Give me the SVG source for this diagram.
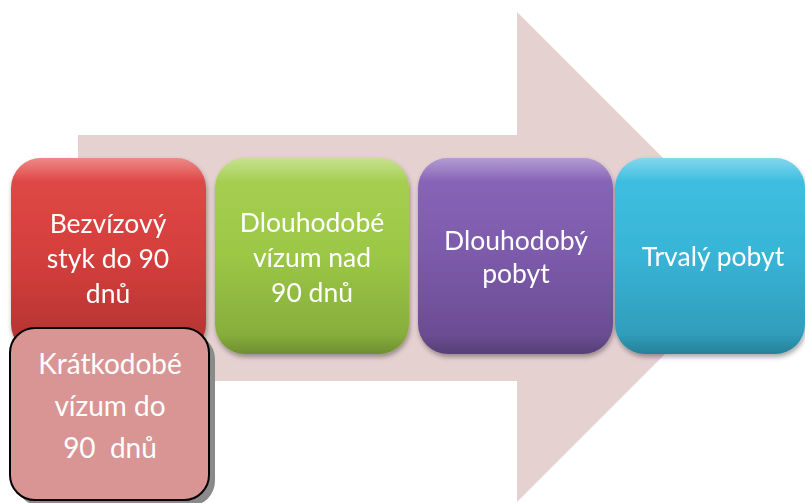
<svg xmlns="http://www.w3.org/2000/svg" width="805" height="503" viewBox="0 0 805 503">
<style>
.t{font-family:Lato,"Open Sans","Liberation Sans",sans-serif;fill:#fff;text-anchor:middle;font-size:26.5px}
.tk{font-size:28px}
</style>
<defs>
<linearGradient id="gr" x1="0" y1="0" x2="0" y2="1"><stop offset="0" stop-color="#E24A48"/><stop offset="0.5" stop-color="#D43F3C"/><stop offset="1" stop-color="#B33231"/></linearGradient>
<linearGradient id="gg" x1="0" y1="0" x2="0" y2="1"><stop offset="0" stop-color="#A9D155"/><stop offset="0.5" stop-color="#9BC745"/><stop offset="1" stop-color="#82A83A"/></linearGradient>
<linearGradient id="gp" x1="0" y1="0" x2="0" y2="1"><stop offset="0" stop-color="#8A67BA"/><stop offset="0.5" stop-color="#7C5AAB"/><stop offset="1" stop-color="#664A8C"/></linearGradient>
<linearGradient id="gc" x1="0" y1="0" x2="0" y2="1"><stop offset="0" stop-color="#40C1E3"/><stop offset="0.5" stop-color="#38B4D6"/><stop offset="1" stop-color="#2E97B4"/></linearGradient>
<linearGradient id="gl" x1="0" y1="0" x2="0" y2="1"><stop offset="0" stop-color="#fff" stop-opacity="0.35"/><stop offset="0.12" stop-color="#fff" stop-opacity="0"/><stop offset="0.9" stop-color="#000" stop-opacity="0"/><stop offset="1" stop-color="#000" stop-opacity="0.15"/></linearGradient>
<filter id="sh" x="-10%" y="-10%" width="130%" height="130%"><feDropShadow dx="1" dy="3" stdDeviation="2.5" flood-color="#000" flood-opacity="0.35"/></filter>
</defs>
<path id="arrow" d="M78,135 H517 V12 L762,257 L517,502 V381 H78 Z" fill="#E6D1D1"/>
<g id="n1" filter="url(#sh)"><rect x="11" y="158" width="195" height="196" rx="30" fill="url(#gr)"/><rect x="11" y="158" width="195" height="196" rx="30" fill="url(#gl)"/>
<text class="t" x="108" y="233">Bezvízový</text><text class="t" x="108" y="268">styk do 90</text><text class="t" x="108" y="303">dnů</text></g>
<g id="n2" filter="url(#sh)"><rect x="215" y="158" width="194" height="196" rx="30" fill="url(#gg)"/><rect x="215" y="158" width="194" height="196" rx="30" fill="url(#gl)"/>
<text class="t" x="312" y="232">Dlouhodobé</text><text class="t" x="312" y="267">vízum nad</text><text class="t" x="312" y="302">90 dnů</text></g>
<g id="n3" filter="url(#sh)"><rect x="418" y="158" width="195" height="196" rx="30" fill="url(#gp)"/><rect x="418" y="158" width="195" height="196" rx="30" fill="url(#gl)"/>
<text class="t" x="516" y="250">Dlouhodobý</text><text class="t" x="516" y="283">pobyt</text></g>
<g id="n4" filter="url(#sh)"><rect x="615" y="158" width="190" height="196" rx="30" fill="url(#gc)"/><rect x="615" y="158" width="190" height="196" rx="30" fill="url(#gl)"/>
<text class="t" x="713" y="266">Trvalý pobyt</text></g>
<g id="n5"><rect x="16" y="334" width="199" height="172" rx="25" fill="#8A8A8A"/><rect x="10" y="328" width="199" height="172" rx="25" fill="#D99594" stroke="#000" stroke-width="2"/>
<text class="t tk" x="110" y="374">Krátkodobé</text><text class="t tk" x="110" y="416">vízum do</text><text class="t tk" x="110" y="458" xml:space="preserve">90  dnů</text></g>
</svg>
